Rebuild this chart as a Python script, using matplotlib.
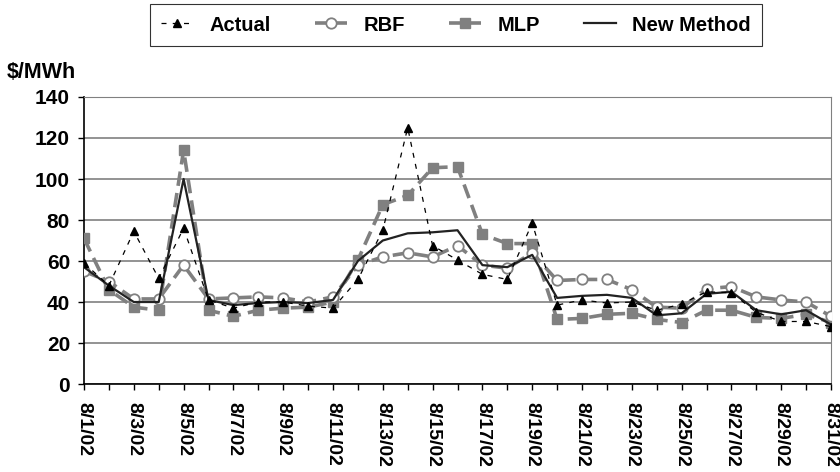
import matplotlib
matplotlib.use("Agg")
import matplotlib.pyplot as plt
import numpy as np
from matplotlib.ticker import MultipleLocator

plt.rcParams['font.family'] = ['Liberation Sans', 'DejaVu Sans']
plt.rcParams['font.weight'] = 'bold'

# Daily prices, August 2002
days = [f"8/{d}/02" for d in range(1, 32)]
actual = [59, 48, 74.5, 51.5, 76, 41, 37, 40, 40, 38, 37,
          51, 75, 125, 67.5, 60.5, 53.5, 51, 78.5, 38.5, 41,
          39.5, 40, 36, 39, 45, 44.5, 35, 30.5, 30.5, 28]
rbf = [55, 50, 41.5, 41.5, 58, 41.5, 42, 42.5, 42, 40, 42.5,
       58, 62, 64, 62, 67.5, 58, 56.5, 64, 50.5, 51,
       51, 46, 37.5, 37, 46.5, 47.5, 42.5, 41, 40, 33]
mlp = [71, 46, 37.5, 36, 114, 36, 33, 36, 37, 37.5, 40,
       60.5, 87.5, 92, 105.5, 106, 73, 68.5, 68.5, 31.5, 32,
       34, 34.5, 31.5, 30, 36, 36, 32.5, 32, 34, 30]
new_method = [57, 48, 40, 40, 100, 41, 38.5, 39.5, 40, 39.5, 41,
              60, 70, 73.5, 74, 75, 58, 57, 63, 42, 43,
              43.5, 42, 33.5, 34.5, 44, 45, 36, 34, 36, 29]

x = np.arange(len(days))

fig = plt.figure(figsize=(8.4, 4.72), dpi=100)
ax = fig.add_axes([0.1, 0.1864, 0.8893, 0.6081])

gray = '#808080'
l_mlp, = ax.plot(x, mlp, color=gray, lw=2.6, ls=(0, (4, 2)), marker='s',
                 ms=7.5, mfc=gray, mec=gray, label='MLP', zorder=3)
l_rbf, = ax.plot(x, rbf, color=gray, lw=2.6, ls=(0, (4, 2)), marker='o',
                 ms=7.5, mfc='white', mec=gray, mew=1.3, label='RBF', zorder=4)
l_new, = ax.plot(x, new_method, color='#222222', lw=1.6, label='New Method',
                 zorder=5)
l_act, = ax.plot(x, actual, color='black', lw=0.9, ls=(0, (4, 5)), marker='^',
                 ms=6, mfc='black', mec='black', label='Actual', zorder=6)

ax.set_xlim(0, 30)
ax.set_ylim(0, 140)
ax.yaxis.set_major_locator(MultipleLocator(20))
ax.set_xticks(x[::2])
ax.set_xticklabels(days[::2], rotation=270, fontsize=14, fontweight='bold')
ax.set_xticks(x, minor=True)
ax.tick_params(axis='x', which='both', direction='out', length=4, width=1,
               color='black', pad=9)
ax.tick_params(axis='y', direction='out', length=4, width=1, labelsize=15,
               pad=6)
for lab in ax.get_yticklabels():
    lab.set_fontweight('bold')

ax.grid(axis='y', color='#808080', lw=1.2)
ax.set_axisbelow(True)
ax.spines['left'].set_color('black')
ax.spines['bottom'].set_color('black')
ax.spines['left'].set_linewidth(1.2)
ax.spines['bottom'].set_linewidth(1.2)
ax.spines['top'].set_color('#808080')
ax.spines['right'].set_color('#808080')

fig.text(0.008, 0.846, '$/MWh', fontsize=15.5, fontweight='bold', ha='left',
         va='center')

leg = fig.legend(handles=[l_act, l_rbf, l_mlp, l_new], loc='center',
                 bbox_to_anchor=(0.543, 0.947), ncol=4, frameon=True,
                 fancybox=False, edgecolor='black',
                 handlelength=1.6, handletextpad=0.8, columnspacing=2.2,
                 borderpad=0.55, prop={'weight': 'bold', 'size': 14.5})
leg.get_frame().set_linewidth(0.8)

fig.savefig('out.png', dpi=100)
